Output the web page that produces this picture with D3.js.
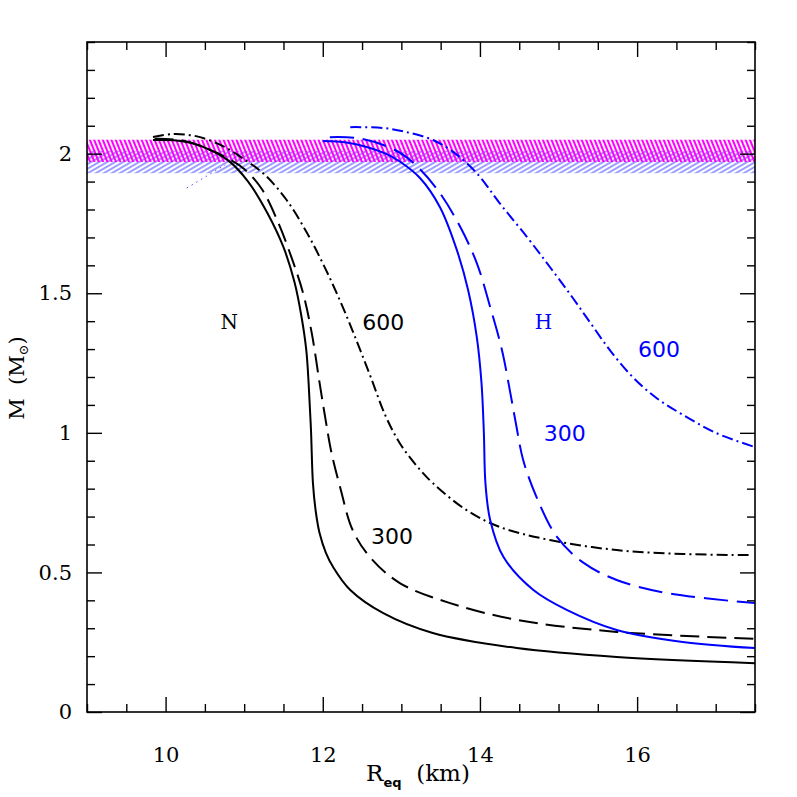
<!DOCTYPE html>
<html>
<head>
<meta charset="utf-8">
<script src="https://cdn.jsdelivr.net/npm/d3@7"></script>
<style>
  body { margin: 0; background: #fff; }
  svg { display: block; }
</style>
</head>
<body>
<svg id="chart" width="797" height="797"></svg>
<script>
// mass-radius curves, [R_eq (km), M (Msun)]
var nStatic = [[9.84,2.049],[10.1,2.048],[10.33,2.038],[10.57,2.013],[10.8,1.975],[11.05,1.9],[11.3,1.785],[11.5,1.665],[11.64,1.54],[11.73,1.415],[11.79,1.297],[11.82,1.178],[11.85,1.01],[11.875,0.82],[11.91,0.72],[11.96,0.64],[12.04,0.57],[12.13,0.52],[12.35,0.437],[12.77,0.354],[13.40,0.283],[14.47,0.229],[15.74,0.197],[17.5,0.175]];
var n300 = [[9.86,2.053],[10.2,2.048],[10.53,2.018],[10.78,1.985],[11.0,1.945],[11.22,1.875],[11.43,1.755],[11.61,1.622],[11.75,1.5],[11.86,1.357],[11.96,1.178],[12.04,1.04],[12.11,0.93],[12.22,0.806],[12.38,0.652],[12.6,0.555],[12.98,0.462],[13.62,0.39],[14.47,0.33],[15.74,0.287],[17.5,0.262]];
var n600 = [[9.84,2.06],[10.09,2.07],[10.4,2.062],[10.73,2.027],[11.0,1.98],[11.26,1.925],[11.54,1.834],[11.80,1.716],[12.03,1.59],[12.24,1.46],[12.43,1.33],[12.61,1.2],[12.8,1.06],[12.98,0.963],[13.2,0.88],[13.40,0.82],[13.83,0.723],[14.25,0.663],[14.89,0.616],[15.74,0.58],[16.58,0.566],[17.43,0.562]];
var hStatic = [[12.0,2.045],[12.3,2.04],[12.56,2.024],[12.8,2.0],[12.98,1.972],[13.24,1.912],[13.49,1.809],[13.7,1.66],[13.85,1.511],[13.96,1.343],[14.02,1.178],[14.05,1.0],[14.07,0.82],[14.13,0.688],[14.30,0.555],[14.68,0.437],[15.11,0.365],[15.74,0.294],[16.58,0.251],[17.5,0.229]];
var h300 = [[12.09,2.059],[12.43,2.056],[12.77,2.031],[13.0,2.0],[13.21,1.952],[13.49,1.859],[13.75,1.737],[13.96,1.608],[14.13,1.451],[14.28,1.297],[14.38,1.153],[14.46,1.03],[14.55,0.903],[14.72,0.77],[14.98,0.627],[15.32,0.534],[15.74,0.473],[16.38,0.426],[17.5,0.39]];
var h600 = [[12.35,2.095],[12.77,2.092],[13.1,2.075],[13.40,2.049],[13.65,2.008],[13.96,1.93],[14.25,1.823],[14.6,1.701],[14.89,1.594],[15.18,1.484],[15.42,1.388],[15.67,1.29],[15.95,1.198],[16.25,1.124],[16.58,1.065],[17.0,1.0],[17.5,0.949]];
var stray = [[10.27,1.877],[10.76,1.96]];

// observed pulsar mass bands [low, high]
var bandBlue = [1.93, 2.01];
var bandMagenta = [1.97, 2.05];

var xMajor = [10, 12, 14, 16];
var yMajor = [0, 0.5, 1, 1.5, 2];
var yLabels = ['0', '0.5', '1', '1.5', '2'];

var labels = [
    {text: 'N', r: 10.81, m: 1.397, color: '#000', serif: true},
    {text: '600', r: 12.77, m: 1.397, color: '#000', serif: false},
    {text: '300', r: 12.88, m: 0.627, color: '#000', serif: false},
    {text: 'H', r: 14.81, m: 1.397, color: '#0000ff', serif: true},
    {text: '300', r: 15.08, m: 0.999, color: '#0000ff', serif: false},
    {text: '600', r: 16.28, m: 1.297, color: '#0000ff', serif: false}
];

var margin = {top: 42, right: 42, bottom: 85, left: 87};
var width = 797 - margin.left - margin.right;
var height = 797 - margin.top - margin.bottom;

var serif = '"DejaVu Serif", serif';
var sans = '"DejaVu Sans", sans-serif';

var svg = d3.select('#chart');
var defs = svg.append('defs');

var pBlue = defs.append('pattern')
    .attr('id', 'hatchBlue')
    .attr('patternUnits', 'userSpaceOnUse')
    .attr('width', 8).attr('height', 4)
    .attr('patternTransform', 'rotate(-30)');
pBlue.append('line')
    .attr('x1', 0).attr('y1', 2).attr('x2', 8).attr('y2', 2)
    .attr('stroke', '#3c3cff').attr('stroke-width', 1);

var pMag = defs.append('pattern')
    .attr('id', 'hatchMagenta')
    .attr('patternUnits', 'userSpaceOnUse')
    .attr('width', 4).attr('height', 8)
    .attr('patternTransform', 'rotate(-22)');
pMag.append('line')
    .attr('x1', 2).attr('y1', 0).attr('x2', 2).attr('y2', 8)
    .attr('stroke', '#ff00ff').attr('stroke-width', 2.1);

defs.append('clipPath').attr('id', 'clip')
    .append('rect').attr('width', width).attr('height', height);

var g = svg.append('g')
    .attr('transform', 'translate(' + margin.left + ',' + margin.top + ')');

var x = d3.scaleLinear().domain([9, 17.5]).range([0, width]);
var y = d3.scaleLinear().domain([0, 2.4]).range([height, 0]);

var plot = g.append('g').attr('clip-path', 'url(#clip)');

plot.append('rect')
    .attr('x', 0).attr('width', width)
    .attr('y', y(bandBlue[1])).attr('height', y(bandBlue[0]) - y(bandBlue[1]))
    .attr('fill', 'url(#hatchBlue)');
plot.append('rect')
    .attr('x', 0).attr('width', width)
    .attr('y', y(bandMagenta[1])).attr('height', y(bandMagenta[0]) - y(bandMagenta[1]))
    .attr('fill', 'url(#hatchMagenta)');

var line = d3.line()
    .x(function(d) { return x(d[0]); })
    .y(function(d) { return y(d[1]); })
    .curve(d3.curveCatmullRom.alpha(0.5));

var series = [
    {pts: nStatic, color: '#000', dash: null},
    {pts: n300, color: '#000', dash: '19,8'},
    {pts: n600, color: '#000', dash: '11,4,2,4'},
    {pts: hStatic, color: '#0000ff', dash: null},
    {pts: h300, color: '#0000ff', dash: '24,9'},
    {pts: h600, color: '#0000ff', dash: '11,4,2,4'}
];

plot.selectAll('path.curve')
    .data(series)
    .enter().append('path')
    .attr('class', 'curve')
    .attr('d', function(d) { return line(d.pts); })
    .attr('fill', 'none')
    .attr('stroke', function(d) { return d.color; })
    .attr('stroke-width', 2)
    .attr('stroke-dasharray', function(d) { return d.dash; });

plot.append('path')
    .attr('d', d3.line().x(function(d) { return x(d[0]); }).y(function(d) { return y(d[1]); })(stray))
    .attr('fill', 'none')
    .attr('stroke', '#4a4aff')
    .attr('stroke-width', 1)
    .attr('stroke-dasharray', '1.5,4');

// ticks inside on all four sides
var xMinor = d3.range(9, 17.51, 0.5).filter(function(v) { return xMajor.indexOf(v) < 0; });
var yMinor = d3.range(0, 2.401, 0.1).map(function(v) { return Math.round(v * 10) / 10; })
    .filter(function(v) { return yMajor.indexOf(v) < 0; });

function tickAxis(axis, transform) {
    var a = g.append('g').attr('transform', transform).call(axis);
    a.select('.domain').remove();
    a.selectAll('line').attr('stroke', '#000').attr('stroke-width', 1.4);
    return a;
}

var xb = tickAxis(d3.axisBottom(x).tickValues(xMajor).tickSize(-15).tickPadding(35).tickFormat(d3.format('d')), 'translate(0,' + height + ')');
tickAxis(d3.axisBottom(x).tickValues(xMinor).tickSize(-8).tickFormat(''), 'translate(0,' + height + ')');
tickAxis(d3.axisTop(x).tickValues(xMajor).tickSize(-15).tickFormat(''), 'translate(0,0)');
tickAxis(d3.axisTop(x).tickValues(xMinor).tickSize(-8).tickFormat(''), 'translate(0,0)');

var yl = tickAxis(d3.axisLeft(y).tickValues(yMajor).tickSize(-15).tickPadding(15)
    .tickFormat(function(d, i) { return yLabels[i]; }), 'translate(0,0)');
tickAxis(d3.axisLeft(y).tickValues(yMinor).tickSize(-8).tickFormat(''), 'translate(0,0)');
tickAxis(d3.axisRight(y).tickValues(yMajor).tickSize(-15).tickFormat(''), 'translate(' + width + ',0)');
tickAxis(d3.axisRight(y).tickValues(yMinor).tickSize(-8).tickFormat(''), 'translate(' + width + ',0)');

xb.selectAll('text').attr('font-family', serif).attr('font-size', 21).attr('fill', '#000');
yl.selectAll('text').attr('font-family', serif).attr('font-size', 21).attr('fill', '#000');

g.append('rect')
    .attr('width', width).attr('height', height)
    .attr('fill', 'none').attr('stroke', '#000').attr('stroke-width', 1.6);

g.selectAll('text.lab')
    .data(labels)
    .enter().append('text')
    .attr('class', 'lab')
    .attr('x', function(d) { return x(d.r); })
    .attr('y', function(d) { return y(d.m); })
    .attr('text-anchor', 'middle')
    .attr('dominant-baseline', 'central')
    .attr('font-family', function(d) { return d.serif ? serif : sans; })
    .attr('font-size', function(d) { return d.serif ? 20 : 22; })
    .attr('fill', function(d) { return d.color; })
    .text(function(d) { return d.text; });

// axis titles
var xt = svg.append('text')
    .attr('x', 418).attr('y', 781)
    .attr('text-anchor', 'middle')
    .attr('font-family', serif).attr('font-size', 23);
xt.append('tspan').text('R');
xt.append('tspan').attr('dy', 6).attr('font-size', 13).attr('font-weight', 'bold')
    .attr('font-family', sans).text('eq');
xt.append('tspan').attr('dy', -6).text('\u00a0\u00a0(km)');

var yt = svg.append('text')
    .attr('transform', 'translate(24,378) rotate(-90)')
    .attr('text-anchor', 'middle')
    .attr('font-family', serif).attr('font-size', 21);
yt.append('tspan').text('M\u00a0\u00a0(M');
yt.append('tspan').attr('dy', 4).attr('font-size', 13).text('\u2299');
yt.append('tspan').attr('dy', -4).text(')');
</script>
</body>
</html>
